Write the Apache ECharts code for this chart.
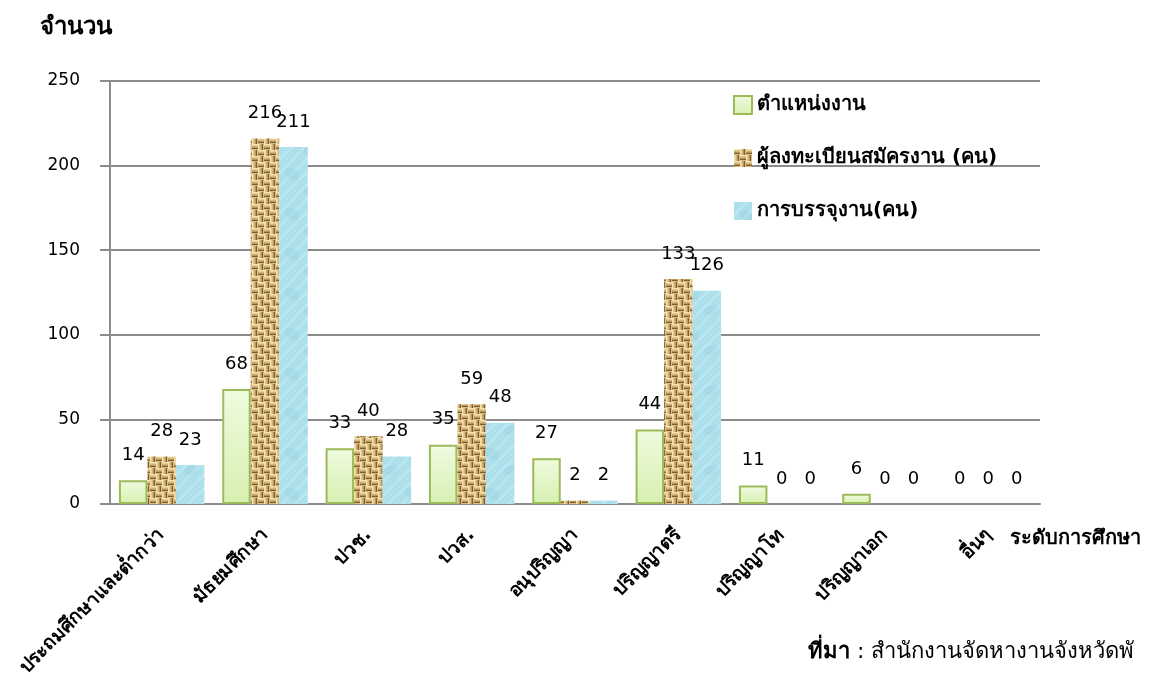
<!DOCTYPE html>
<html><head><meta charset="utf-8">
<script src="https://cdn.jsdelivr.net/npm/echarts@6/dist/echarts.min.js"></script>
<style>html,body{margin:0;padding:0;background:#fff}#c{width:1149px;height:685px}</style>
</head><body><div id="c"></div>
<script>
const categories = ['ประถมศึกษาและต่ำกว่า','มัธยมศึกษา','ปวช.','ปวส.','อนุปริญญา','ปริญญาตรี','ปริญญาโท','ปริญญาเอก','อื่นๆ'];
const seriesNames = ['ตำแหน่งงาน','ผู้ลงทะเบียนสมัครงาน (คน)','การบรรจุงาน(คน)'];
const positions = [14,68,33,35,27,44,11,6,0];
const applicants = [28,216,40,59,2,133,0,0,0];
const placements = [23,211,28,48,2,126,0,0,0];
const yTicks = {min:0,max:250,interval:50};

const FONT = "Tahoma, 'DejaVu Sans', 'Noto Sans', sans-serif";
const NUMFONT = "'DejaVu Sans', Verdana, sans-serif";

function burlap(){
  const s=12,b=6;
  const c=document.createElement('canvas');c.width=s;c.height=s;const g=c.getContext('2d');
  g.fillStyle='#d2b47a';g.fillRect(0,0,s,s);
  const cols=['#f4e2ae','#e6cc92','#d2b47a','#b8965c','#7d5e30','#d9bd85'];
  for(let by=0;by<2;by++)for(let bx=0;bx<2;bx++){
    const x0=bx*b,y0=by*b;
    for(let k=0;k<b;k++){
      g.fillStyle=cols[k];
      if((bx+by)%2===0) g.fillRect(x0,y0+k,b,1); else g.fillRect(x0+k,y0,1,b);
    }
  }
  return c;
}
function water(){
  const c=document.createElement('canvas');c.width=40;c.height=40;const g=c.getContext('2d');
  g.fillStyle='#ace1ec';g.fillRect(0,0,40,40);
  g.strokeStyle='rgba(255,255,255,0.22)';g.lineWidth=2;
  for(let i=-40;i<80;i+=13){g.beginPath();g.moveTo(i,40);g.lineTo(i+40,0);g.stroke();}
  g.fillStyle='rgba(120,190,205,0.18)';
  g.beginPath();g.ellipse(12,14,8,5,0.6,0,Math.PI*2);g.fill();
  g.beginPath();g.ellipse(30,30,7,4,-0.4,0,Math.PI*2);g.fill();
  return c;
}

const chart = echarts.init(document.getElementById('c'),null,{renderer:'canvas'});
const labelStyle = {show:true,position:'top',distance:16,color:'#000',fontSize:18,fontFamily:NUMFONT};
const greenData = positions.map(v => v === 0 ? {value:v,itemStyle:{borderWidth:0}} : v);
chart.setOption({
  animation:false,
  backgroundColor:'#fff',
  grid:{left:110,right:109,top:81,bottom:181,containLabel:false},
  legend:{
    orient:'vertical',left:728,top:90,icon:'rect',itemWidth:18,itemHeight:18,itemGap:33,
    textStyle:{fontSize:20,fontWeight:'bold',color:'#000',fontFamily:FONT},
    data:seriesNames
  },
  xAxis:{
    type:'category',data:categories,
    axisLine:{show:true,lineStyle:{color:'#8c8c8c',width:2}},
    axisTick:{show:false},
    axisLabel:{rotate:45,interval:0,margin:28,fontSize:19,fontWeight:'bold',color:'#000',fontFamily:FONT}
  },
  yAxis:{
    type:'value',min:yTicks.min,max:yTicks.max,interval:yTicks.interval,
    axisLine:{show:true,lineStyle:{color:'#8c8c8c',width:2}},
    axisTick:{show:true,length:10,lineStyle:{color:'#8c8c8c',width:2}},
    splitLine:{show:true,lineStyle:{color:'#8c8c8c',width:2}},
    axisLabel:{margin:30,fontSize:17,color:'#000',fontFamily:NUMFONT}
  },
  series:[
    {name:seriesNames[0],type:'bar',data:greenData,barWidth:28.5,barGap:'0%',
     itemStyle:{color:new echarts.graphic.LinearGradient(0,0,0,1,[{offset:0,color:'#f0fbe0'},{offset:1,color:'#d6f0b0'}]),borderColor:'#9bbb59',borderWidth:2},
     label:labelStyle},
    {name:seriesNames[1],type:'bar',data:applicants,barWidth:28.5,barGap:'0%',
     itemStyle:{color:{image:burlap(),repeat:'repeat'}},label:labelStyle},
    {name:seriesNames[2],type:'bar',data:placements,barWidth:28.5,barGap:'0%',
     itemStyle:{color:{image:water(),repeat:'repeat'}},label:labelStyle}
  ],
  graphic:[
    {type:'text',left:40,top:16,style:{text:'จำนวน',fontSize:24,fontWeight:'bold',fill:'#000',fontFamily:FONT}},
    {type:'text',left:1010,top:529,style:{text:'ระดับการศึกษา',fontSize:20,fontWeight:'bold',fill:'#000',fontFamily:FONT}},
    {type:'text',left:808,top:641,style:{
      text:'{b|ที่มา} : สำนักงานจัดหางานจังหวัดพั',fontSize:22,fill:'#000',fontFamily:FONT,
      rich:{b:{fontSize:22,fontWeight:'bold',fill:'#000',fontFamily:FONT}}}}
  ]
});
</script></body></html>
